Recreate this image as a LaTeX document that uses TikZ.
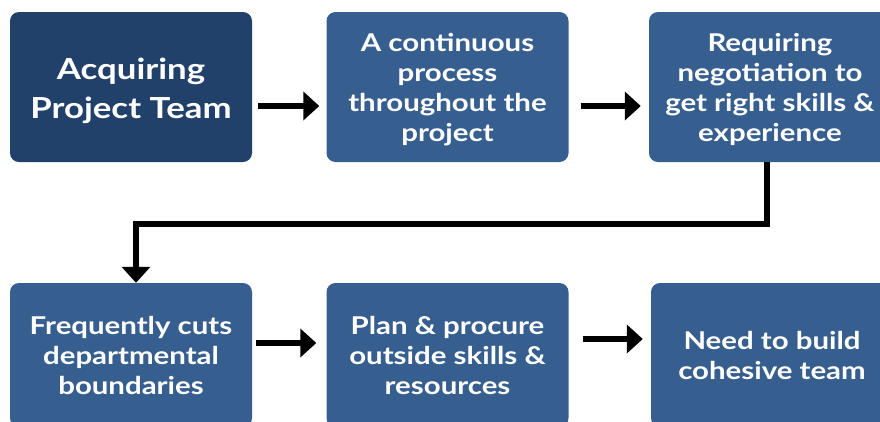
\documentclass[tikz,border=0pt]{standalone}
\usepackage{fontspec}
\setmainfont[FakeStretch=1.2]{Lato}
\usetikzlibrary{arrows.meta}
\definecolor{navydark}{RGB}{33,64,106}
\definecolor{navy}{RGB}{54,95,143}
\newcommand{\toplift}[1]{\rule{0pt}{#1}}
\begin{document}
\begin{tikzpicture}[
    stepbox/.style={fill=navy, text=white, rounded corners=9pt, align=center,
        minimum width=242pt, minimum height=150pt, inner sep=0pt,
        font=\bfseries\fontsize{24.5}{30}\selectfont},
    flow/.style={line width=5.5pt, -{Triangle[width=28pt,length=16pt]}}
]
    \clip (0,0) rectangle (880pt,-421pt);
    \fill[white] (0,0) rectangle (880pt,-421pt);
    \node[stepbox, fill=navydark, font=\bfseries\fontsize{29}{39}\selectfont] (acq) at (131pt,-87pt) {\toplift{29pt}Acquiring\\Project Team};
    \node[stepbox] (cont) at (447.5pt,-87pt) {\toplift{24pt}A continuous\\process\\throughout the\\project};
    \node[stepbox] (req) at (770pt,-87pt) {\toplift{24pt}Requiring\\negotiation to\\get right skills \&\\experience};
    \node[stepbox, minimum height=144pt] (cuts) at (131pt,-355pt) {Frequently cuts\\departmental\\boundaries};
    \node[stepbox, minimum height=144pt] (plan) at (447.5pt,-355pt) {Plan \& procure\\outside skills \&\\resources};
    \node[stepbox, minimum height=144pt] (need) at (772pt,-355pt) {Need to build\\cohesive team};
    \draw[flow] ([shift={(6pt,-19pt)}]acq.east) -- ([shift={(-7pt,-19pt)}]cont.west);
    \draw[flow] ([shift={(12pt,-19pt)}]cont.east) -- ([shift={(-8pt,-19pt)}]req.west);
    \draw[flow] ([xshift=-3pt]req.south) -- ++(0,-62pt) -| ([xshift=5pt]cuts.north);
    \draw[flow] ([shift={(4pt,12pt)}]cuts.east) -- ([shift={(-10pt,12pt)}]plan.west);
    \draw[flow] ([shift={(14pt,16pt)}]plan.east) -- ([shift={(-8pt,16pt)}]need.west);
\end{tikzpicture}
\end{document}
